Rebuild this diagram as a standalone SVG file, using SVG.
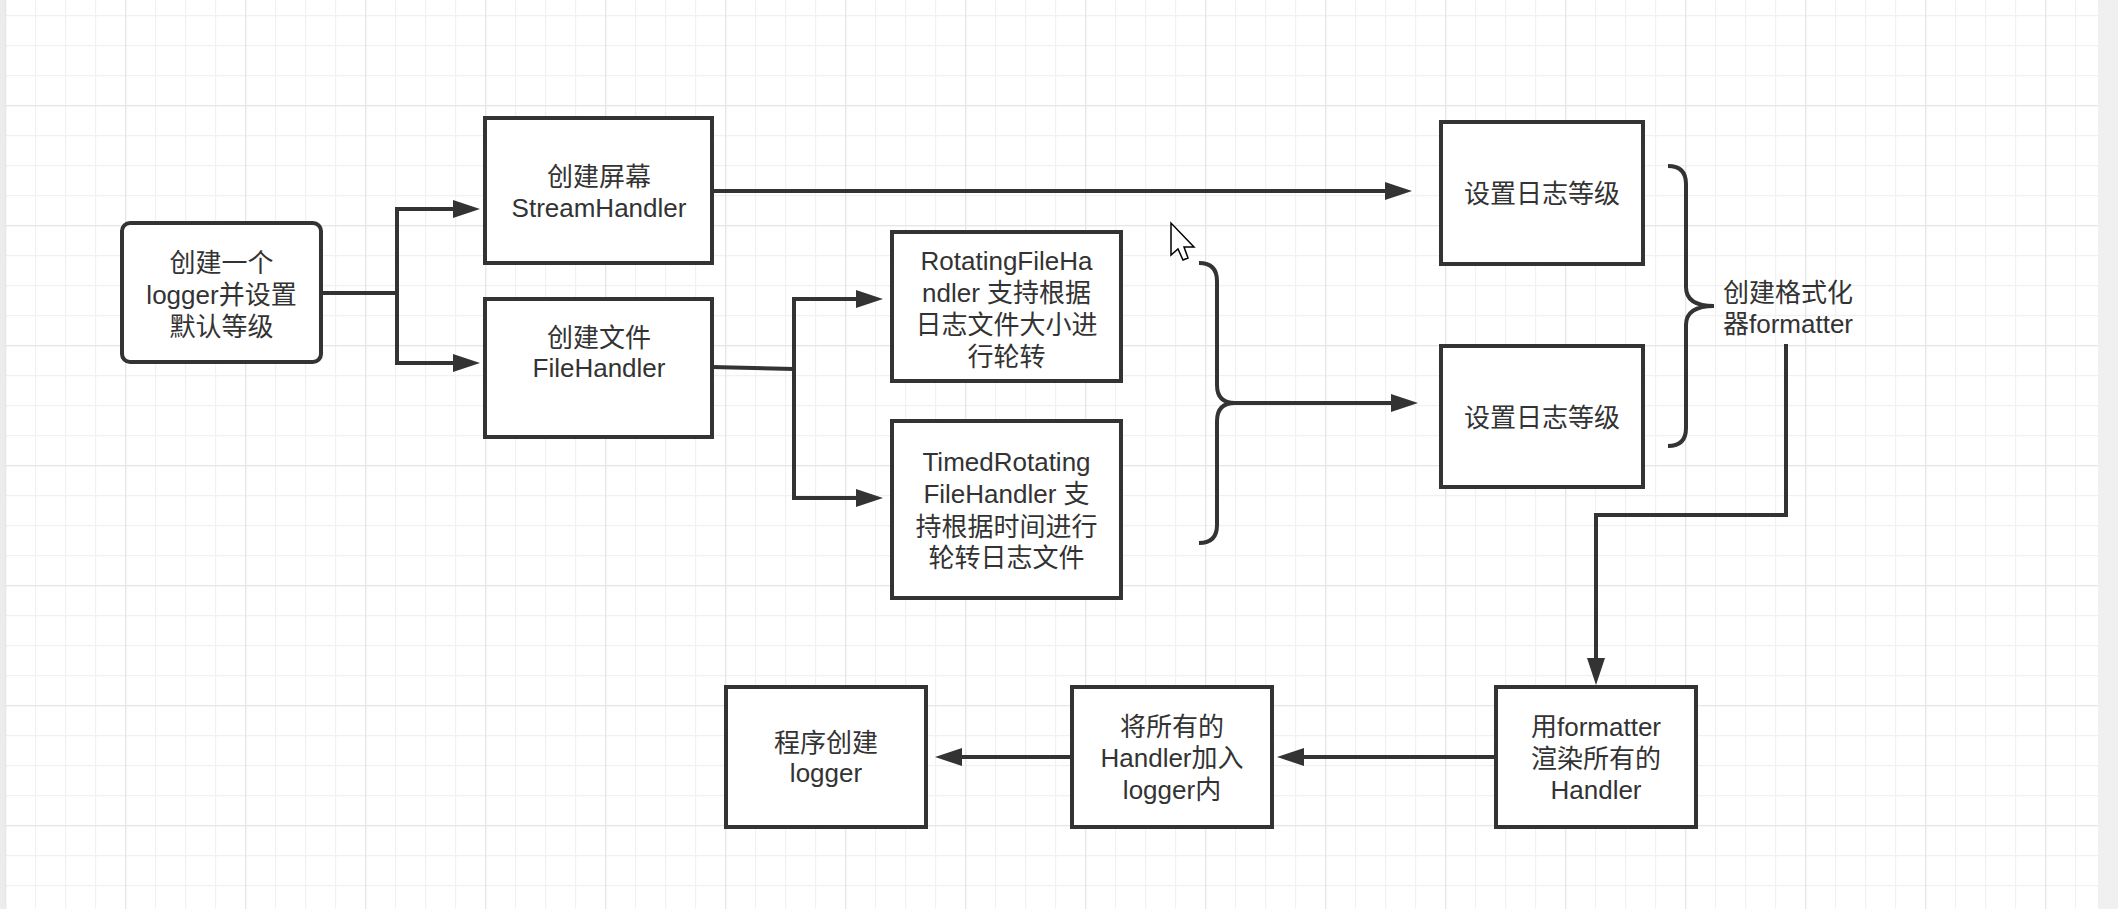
<svg xmlns="http://www.w3.org/2000/svg" width="2118" height="909" viewBox="0 0 2118 909">
<style>
.box{fill:#fff;stroke:#333;stroke-width:4}
.t{font-family:"Liberation Sans","Noto Sans CJK SC",sans-serif;font-size:26px;fill:#333;text-anchor:middle;dominant-baseline:central}
.tl{text-anchor:start}
.c{fill:none;stroke:#333;stroke-width:4;stroke-linejoin:miter}
.a{marker-end:url(#ah)}
</style>
<defs>
<pattern id="minor" patternUnits="userSpaceOnUse" x="5" y="15" width="30" height="30">
<path d="M0 0V30M0 0H30" fill="none" stroke="#f1f1f1" stroke-width="2.4"/>
</pattern>
<pattern id="major" patternUnits="userSpaceOnUse" x="125" y="105" width="120" height="120">
<path d="M0 0V120M0 0H120" fill="none" stroke="#e6e6e6" stroke-width="2.6"/>
</pattern>
<marker id="ah" markerUnits="userSpaceOnUse" markerWidth="28" markerHeight="18" refX="0" refY="9" orient="auto" overflow="visible">
<path d="M0 0L27 9L0 18Z" fill="#333"/>
</marker>
</defs>
<g id="background">
<rect x="0" y="0" width="2118" height="909" fill="#fff"/>
<rect x="5" y="0" width="2093" height="909" fill="url(#minor)"/>
<rect x="5" y="0" width="2093" height="909" fill="url(#major)"/>
<rect x="0" y="0" width="5" height="909" fill="#ececec"/>
<rect x="2098" y="0" width="20" height="909" fill="#f0f0f0"/>
</g>
<g id="connectors">
<path class="c a" d="M321 293H397V209H453"/>
<path class="c a" d="M397 293V363H453"/>
<path class="c a" d="M712 191H1385"/>
<path class="c" d="M712 367L794 369"/>
<path class="c a" d="M794 369V299H856"/>
<path class="c a" d="M794 369V498H856"/>
<path class="c" d="M1199 263Q1217 263 1217 281V385Q1217 403 1235 403Q1217 403 1217 421V525Q1217 543 1199 543"/>
<path class="c a" d="M1233 403H1391"/>
<path class="c" d="M1668 166Q1686 166 1686 184V287Q1686 306 1714 306Q1686 306 1686 325V428Q1686 446 1668 446"/>
<path class="c a" d="M1786 344V515H1596V658"/>
<path class="c a" d="M1496 757H1304"/>
<path class="c a" d="M1072 757H962"/>
</g>
<g id="n1">
<rect class="box" x="122" y="223" width="199" height="139" rx="8"/>
<text class="t" x="221.5" y="263">创建一个</text>
<text class="t" x="221.5" y="295">logger并设置</text>
<text class="t" x="221.5" y="327">默认等级</text>
</g>
<g id="n2">
<rect class="box" x="485" y="118" width="227" height="145"/>
<text class="t" x="599" y="177">创建屏幕</text>
<text class="t" x="599" y="208">StreamHandler</text>
</g>
<g id="n3">
<rect class="box" x="485" y="299" width="227" height="138"/>
<text class="t" x="599" y="338">创建文件</text>
<text class="t" x="599" y="368">FileHandler</text>
</g>
<g id="n4">
<rect class="box" x="892" y="232" width="229" height="149"/>
<text class="t" x="1006.5" y="261">RotatingFileHa</text>
<text class="t" x="1006.5" y="293">ndler 支持根据</text>
<text class="t" x="1006.5" y="325">日志文件大小进</text>
<text class="t" x="1006.5" y="357">行轮转</text>
</g>
<g id="n5">
<rect class="box" x="892" y="421" width="229" height="177"/>
<text class="t" x="1006.5" y="462">TimedRotating</text>
<text class="t" x="1006.5" y="494">FileHandler 支</text>
<text class="t" x="1006.5" y="527">持根据时间进行</text>
<text class="t" x="1006.5" y="558">轮转日志文件</text>
</g>
<g id="n6">
<rect class="box" x="1441" y="122" width="202" height="142"/>
<text class="t" x="1542" y="194">设置日志等级</text>
</g>
<g id="n7">
<rect class="box" x="1441" y="346" width="202" height="141"/>
<text class="t" x="1542" y="418">设置日志等级</text>
</g>
<g id="n8">
<text class="t tl" x="1723" y="293">创建格式化</text>
<text class="t tl" x="1723" y="324">器formatter</text>
</g>
<g id="n9">
<rect class="box" x="1496" y="687" width="200" height="140"/>
<text class="t" x="1596" y="727">用formatter</text>
<text class="t" x="1596" y="759">渲染所有的</text>
<text class="t" x="1596" y="790">Handler</text>
</g>
<g id="n10">
<rect class="box" x="1072" y="687" width="200" height="140"/>
<text class="t" x="1172" y="727">将所有的</text>
<text class="t" x="1172" y="758">Handler加入</text>
<text class="t" x="1172" y="790">logger内</text>
</g>
<g id="n11">
<rect class="box" x="726" y="687" width="200" height="140"/>
<text class="t" x="826" y="743">程序创建</text>
<text class="t" x="826" y="773">logger</text>
</g>
<g id="cursor">
<path d="M1171 223l0 32l7 -6l5 11l5 -2l-4 -11l10 0z" fill="#fff" stroke="#000" stroke-width="1.5" stroke-linejoin="miter"/>
</g>
</svg>
